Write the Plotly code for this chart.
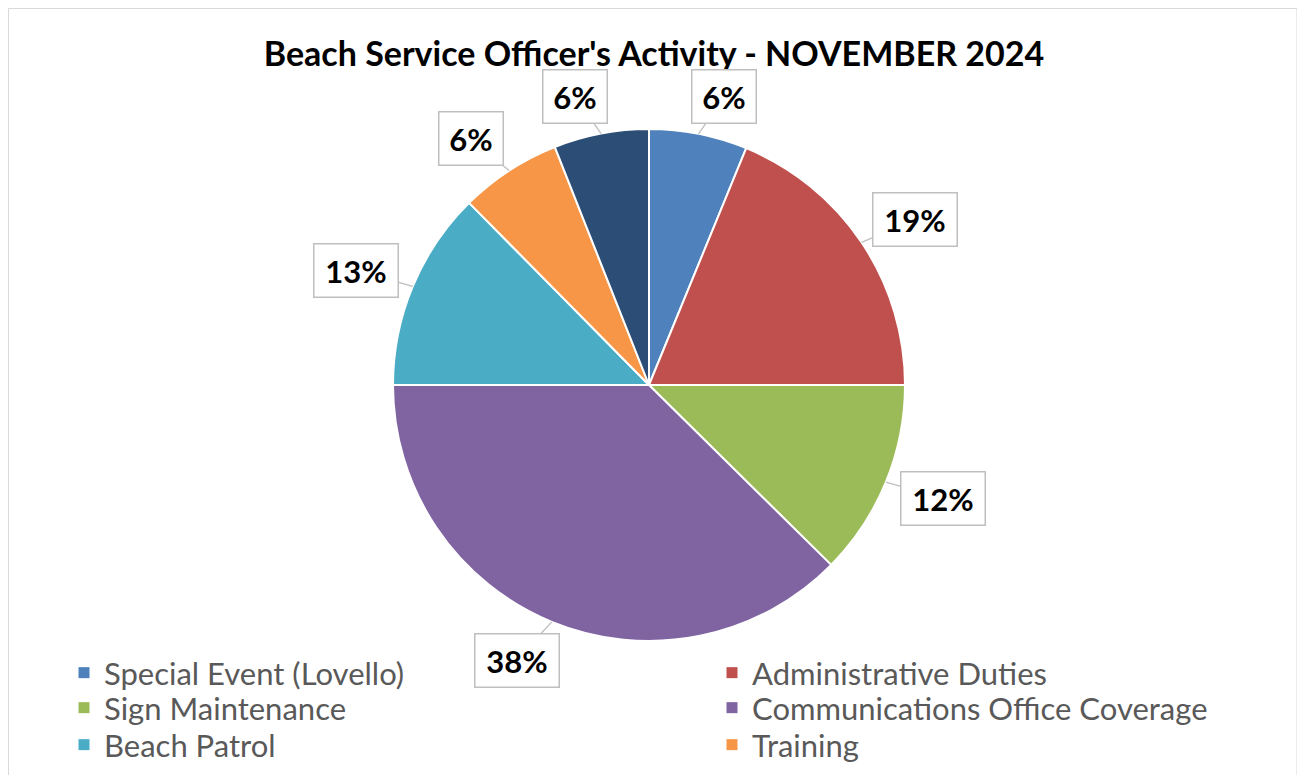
import math
import plotly.graph_objects as go

# ---- data ----
categories = ["Special Event (Lovello)", "Administrative Duties", "Sign Maintenance",
              "Communications Office Coverage", "Beach Patrol", "Training", "Other"]
values = [6.2, 18.8, 12.4, 37.6, 12.6, 6.4, 6.0]
colors = ["#4F81BD", "#C0504D", "#9BBB59", "#8064A2", "#4BACC6", "#F79646", "#2C4D75"]
legend_categories = categories[:6]
title_text = "Beach Service Officer's Activity - NOVEMBER 2024"

# ---- layout geometry (figure pixels; page has an 8px body margin) ----
W, H = 1297, 767
CX, CY, R = 641, 377, 256
LEG_COL_X = [56, 704]          # left edge of each legend column
LEG_ROW_Y = [665, 700, 737]    # centre of each legend row

def px_to_paper(x, y):
    return x / W, 1 - y / H

fig = go.Figure()
fig.add_trace(go.Pie(
    labels=categories, values=values, sort=False, direction="clockwise", rotation=0,
    marker=dict(colors=colors, line=dict(color="white", width=2)),
    textinfo="none", hoverinfo="label+percent", showlegend=False,
    domain=dict(x=[(CX - R) / W, (CX + R) / W], y=[1 - (CY + R) / H, 1 - (CY - R) / H]),
))

# legend entries: one small legend per entry, laid out in a 2-column grid
legend_style = dict(orientation="v", yanchor="middle", xanchor="left",
                    font=dict(family="Lato", size=31, color="#595959"),
                    bgcolor="rgba(0,0,0,0)", itemclick=False, itemdoubleclick=False)
legend_layout = {}
for i, (cat, col) in enumerate(zip(legend_categories, colors)):
    key = "legend" if i == 0 else f"legend{i + 1}"
    fig.add_trace(go.Scatter(x=[None], y=[None], mode="markers", name=cat, legend=key,
                             marker=dict(symbol="square", size=11, color=col)))
    lx, ly = px_to_paper(LEG_COL_X[i % 2], LEG_ROW_Y[i // 2])
    legend_layout[key] = dict(x=lx, y=ly, **legend_style)

# data labels with callout lines, computed from the slice angles
total = sum(values)
annotations = []
cum = 0.0
for v in values:
    mid = (cum + v / 2) / total * 2 * math.pi
    cum += v
    tipx = CX + R * math.sin(mid)
    tipy = CY - R * math.cos(mid)
    sx = 1 if math.sin(mid) >= 0 else -1
    sy = -1 if math.cos(mid) >= 0 else 1
    alpha = math.atan2(abs(math.sin(mid)), abs(math.cos(mid)))
    phi = alpha + (math.pi / 2 - alpha) * 0.3
    txt = f"{round(v / total * 100)}%"
    bw = 20 * len(txt) + 23
    L = 30 + 0.2 * bw + 14 * math.sin(alpha)
    ox = sx * math.sin(phi) * L
    oy = sy * math.cos(phi) * L
    x, y = px_to_paper(tipx, tipy)
    annotations.append(dict(
        x=x, y=y, xref="paper", yref="paper", text=f"<b>{txt}</b>",
        showarrow=True, ax=ox, ay=oy, arrowhead=0, arrowwidth=1.3, arrowcolor="#BFBFBF",
        standoff=0, startstandoff=0,
        bgcolor="white", bordercolor="#BFBFBF", borderwidth=1.5, borderpad=0,
        width=bw, height=52, font=dict(family="Lato", size=31, color="black"),
    ))

shapes = [dict(type="rect", xref="paper", yref="paper",
               x0=0.5 / W, x1=1289 / W, y0=-0.2, y1=1 - 0.5 / H,
               line=dict(color="#D9D9D9", width=1), fillcolor="rgba(0,0,0,0)", layer="below")]

fig.update_layout(
    width=W, height=H,
    margin=dict(l=0, r=0, t=0, b=0, autoexpand=False),
    paper_bgcolor="white", plot_bgcolor="white",
    title=dict(text=f"<b>{title_text}</b>", x=646 / W, xanchor="center",
               y=1 - 46 / H, yanchor="middle", yref="container",
               font=dict(family="Lato", size=34, color="black")),
    xaxis=dict(visible=False), yaxis=dict(visible=False),
    annotations=annotations, shapes=shapes,
    **legend_layout,
)

fig.write_html("out.html")
